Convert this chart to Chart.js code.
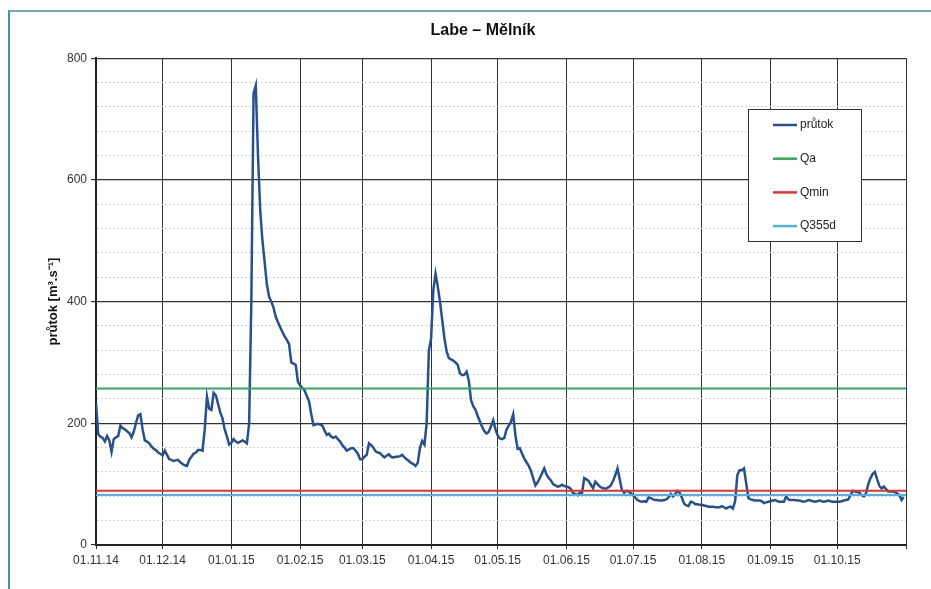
<!DOCTYPE html>
<html>
<head>
<meta charset="utf-8">
<title>Labe – Mělník</title>
<script src="https://cdn.jsdelivr.net/npm/chart.js@4.4.1/dist/chart.umd.min.js"></script>
<style>
    html, body { margin: 0; padding: 0; background: #fff; overflow: hidden; }
    #frame {
        position: absolute; left: 8px; top: 10px; width: 940px; height: 600px;
        border-left: 2px solid #3f95a0; border-top: 2px solid #6aaeb3;
    }
    #chart { position: absolute; left: 0; top: 0; }
</style>
</head>
<body>
<div id="frame"></div>
<canvas id="chart" width="931" height="589"></canvas>
<script>
// month starts shown on the x axis
const monthLabels = ['01.11.14', '01.12.14', '01.01.15', '01.02.15', '01.03.15', '01.04.15',
    '01.05.15', '01.06.15', '01.07.15', '01.08.15', '01.09.15', '01.10.15']
const monthDays = [30, 31, 31, 28, 31, 30, 31, 30, 31, 31, 30, 31]

// daily flow (m3/s), 01.11.14 - 31.10.15
const prutok = [
    // Nov
    233, 182, 178, 176, 170, 179, 172, 153, 174, 177, 179, 196, 192, 190, 187,
    184, 177, 186, 200, 213, 215, 190, 172, 170, 167, 162, 158, 156, 152, 150,
    // Dec
    147, 155, 148, 141, 140, 138, 139, 140, 136, 133, 131, 130, 140, 145, 150, 152,
    156, 156, 155, 190, 244, 224, 222, 250, 246, 232, 218, 208, 190, 178, 165,
    // Jan
    168, 174, 170, 168, 170, 172, 170, 167, 200, 400, 742, 755, 640, 550, 500, 465,
    428, 408, 400, 390, 375, 366, 358, 350, 343, 337, 330, 300, 298, 296, 268,
    // Feb
    262, 258, 254, 245, 236, 215, 197, 198, 199, 198, 196, 188, 181, 183,
    178, 176, 178, 174, 170, 164, 160, 155, 157, 159, 159, 155, 150, 141,
    // Mar
    141, 145, 148, 167, 164, 160, 154, 152, 151, 147, 144, 147, 149, 145, 144, 145,
    145, 146, 148, 144, 141, 138, 135, 133, 130, 135, 160, 171, 165, 200, 320,
    // Apr
    339, 419, 446, 425, 400, 370, 340, 318, 307, 305, 303, 300, 296, 282, 279,
    280, 285, 270, 238, 228, 222, 212, 203, 194, 187, 183, 186, 195, 205, 190,
    // May
    180, 175, 174, 176, 190, 196, 203, 215, 180, 158, 159, 150, 142, 136, 130, 122,
    110, 98, 103, 110, 118, 126, 116, 110, 106, 100, 98, 96, 97, 99, 97,
    // Jun
    96, 95, 92, 85, 84, 82, 86, 85, 110, 108, 105, 99, 93, 104, 100,
    96, 94, 93, 93, 95, 98, 105, 115, 126, 108, 90, 86, 89, 88, 85,
    // Jul
    82, 78, 74, 72, 71, 72, 71, 78, 77, 75, 74, 74, 73, 73, 74, 75,
    78, 84, 80, 84, 89, 86, 78, 68, 65, 64, 71, 70, 67, 67, 66,
    // Aug
    66, 65, 64, 63, 63, 63, 62, 62, 62, 64, 62, 60, 62, 63, 60, 72,
    115, 123, 123, 126, 101, 77, 75, 74, 73, 73, 73, 72, 69, 70, 71,
    // Sep
    72, 73, 74, 72, 71, 71, 71, 80, 75, 74, 74, 74, 73, 73, 72,
    71, 72, 74, 73, 72, 71, 72, 73, 72, 71, 72, 73, 72, 71, 71,
    // Oct
    71, 71, 72, 73, 74, 75, 82, 89, 88, 87, 86, 82, 80, 85, 100, 110,
    117, 120, 108, 97, 93, 96, 92, 88, 88, 88, 87, 85, 82, 74, 79
]

// reference flows
const Qa = 257
const Qmin = 89
const Q355d = 82

const monthStarts = [0]
monthDays.forEach(d => monthStarts.push(monthStarts[monthStarts.length - 1] + d))
const lastDay = monthStarts[monthStarts.length - 1]

const flat = v => [{ x: 0, y: v }, { x: lastDay, y: v }]
const isMajor = c => c.tick && c.tick.value % 200 === 0

Chart.defaults.font.family = "'Liberation Sans', Arial, sans-serif"
Chart.defaults.font.size = 12
Chart.defaults.color = '#333'

// legend box drawn inside the plot, like the original
const legendBox = {
    id: 'legendBox',
    afterDraw(chart) {
        const ctx = chart.ctx
        const area = chart.chartArea
        const x = Math.round(area.right - 158), y = Math.round(area.top + 51)
        ctx.save()
        ctx.fillStyle = '#fff'
        ctx.fillRect(x, y, 113, 132)
        ctx.strokeStyle = '#333'
        ctx.lineWidth = 1
        ctx.strokeRect(x + 0.5, y + 0.5, 113, 132)
        ctx.font = "12px 'Liberation Sans', Arial, sans-serif"
        ctx.textBaseline = 'middle'
        chart.data.datasets.forEach((ds, i) => {
            const yy = y + 16 + i * 33.7
            ctx.strokeStyle = ds.borderColor
            ctx.lineWidth = 2.5
            ctx.beginPath()
            ctx.moveTo(x + 25, yy)
            ctx.lineTo(x + 49, yy)
            ctx.stroke()
            ctx.fillStyle = '#222'
            ctx.fillText(ds.label, x + 52, yy)
        })
        ctx.restore()
    }
}

const ctx = document.getElementById('chart').getContext('2d')
const flowChart = new Chart(ctx, {
    type: 'line',
    data: {
        datasets: [
            {
                label: 'průtok',
                data: prutok.map((v, i) => ({ x: i, y: v })),
                borderColor: '#26508e',
                borderWidth: 2.5,
                order: 1
            },
            { label: 'Qa', data: flat(Qa), borderColor: '#2fab5e', borderWidth: 2, order: 0 },
            { label: 'Qmin', data: flat(Qmin), borderColor: '#e8312f', borderWidth: 2, order: 0 },
            { label: 'Q355d', data: flat(Q355d), borderColor: '#4cb4e4', borderWidth: 2, order: 0 }
        ]
    },
    options: {
        responsive: false,
        devicePixelRatio: 1,
        animation: false,
        elements: { point: { radius: 0 }, line: { tension: 0 } },
        layout: { padding: { left: 35, right: 0, top: 0, bottom: 0 } },
        plugins: {
            legend: { display: false },
            tooltip: { enabled: false },
            title: {
                display: true,
                text: 'Labe – Mělník',
                color: '#111',
                font: { size: 16, weight: 'bold' },
                padding: { top: 21, bottom: 18 }
            }
        },
        scales: {
            x: {
                type: 'linear',
                min: 0,
                max: lastDay,
                afterBuildTicks: s => { s.ticks = monthStarts.map(v => ({ value: v })) },
                afterFit: s => { s.height = 44 },
                ticks: {
                    autoSkip: false,
                    maxRotation: 0,
                    padding: 4,
                    callback: (v, i) => monthLabels[i] || ''
                },
                grid: { color: '#333', lineWidth: 1, tickLength: 4, tickColor: '#333' },
                border: { color: '#222', width: 2 }
            },
            y: {
                min: 0,
                max: 800,
                afterFit: s => { s.width = 61 },
                ticks: {
                    stepSize: 40,
                    padding: 4,
                    callback: v => v % 200 === 0 ? v : ''
                },
                grid: {
                    color: c => isMajor(c) ? '#333' : '#d2d2d2',
                    lineWidth: c => isMajor(c) ? 1.2 : 1,
                    tickColor: c => isMajor(c) ? '#333' : 'rgba(0,0,0,0)',
                    tickLength: 5
                },
                border: { color: '#222', width: 2, dash: c => c.tick && !isMajor(c) ? [2, 2] : [] },
                title: {
                    display: true,
                    text: 'průtok [m³.s⁻¹]',
                    color: '#111',
                    font: { size: 13, weight: 'bold' },
                    padding: { top: 11, bottom: 0 }
                }
            },
            yRight: {
                type: 'linear',
                position: 'right',
                grid: { display: false },
                ticks: { display: false },
                border: { display: false },
                afterFit: s => { s.width = 25 }
            }
        }
    },
    plugins: [legendBox]
})
</script>
</body>
</html>
